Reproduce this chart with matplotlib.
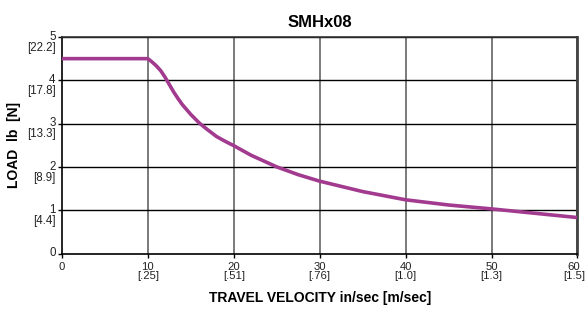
import matplotlib
matplotlib.use("Agg")
import matplotlib.pyplot as plt
from matplotlib.transforms import ScaledTranslation

plt.rcParams['font.family'] = ['Liberation Sans', 'DejaVu Sans']

# velocity in/sec and load lb
vel = [0, 10, 10.5, 11, 11.5, 12, 12.5, 13, 13.5, 14, 15, 16, 17, 18, 19, 20, 22,
       25, 27.5, 30, 35, 40, 45, 50, 55, 60]
load = [4.5, 4.5, 4.42, 4.33, 4.22, 4.07, 3.9, 3.73, 3.58, 3.44, 3.21, 3.01, 2.85,
        2.70, 2.59, 2.49, 2.27, 2.0, 1.82, 1.67, 1.43, 1.24, 1.12, 1.03, 0.93, 0.83]

xticks = [0, 10, 20, 30, 40, 50, 60]
xlabels = ['0', '10\n[.25]', '20\n[.51]', '30\n[.76]', '40\n[1.0]', '50\n[1.3]', '60\n[1.5]']
yticks = [0, 1, 2, 3, 4, 5]
ylabels = ['0', '1\n[4.4]', '2\n[8.9]', '3\n[13.3]', '4\n[17.8]', '5\n[22.2]']

fig = plt.figure(figsize=(5.87, 3.12), dpi=100)
ax = fig.add_axes([0.1056, 0.1875, 0.8782, 0.6939])

for x in xticks[1:]:
    ax.axvline(x, color='#707070', lw=1.3, zorder=1)
for y in yticks[1:]:
    ax.axhline(y, color='black', lw=1.0, zorder=1)

ax.plot(vel, load, color='#A23B8F', lw=2.6, zorder=3, solid_capstyle='butt')

ax.set_xlim(0, 60)
ax.set_ylim(0, 5)
ax.set_xticks(xticks)
ax.set_xticklabels(xlabels, fontsize=8.1, linespacing=0.9, color='#222222')
ax.set_yticks(yticks)
ax.set_yticklabels(ylabels, fontsize=8.3, linespacing=0.9, color='#222222')
ax.tick_params(axis='both', direction='out', length=3, width=1)
ax.tick_params(axis='x', pad=3)
ax.tick_params(axis='y', pad=1.5)

# first line of each y tick label sits on its tick
off = ScaledTranslation(0, 4.6 / 72, fig.dpi_scale_trans)
for lab in ax.get_yticklabels():
    lab.set_verticalalignment('top')
    lab.set_transform(lab.get_transform() + off)

# keep the last x label inside the figure
last = ax.get_xticklabels()[-1]
last.set_transform(last.get_transform() + ScaledTranslation(-2.5 / 72, 0, fig.dpi_scale_trans))

for s in ['left', 'bottom']:
    ax.spines[s].set_color('black')
    ax.spines[s].set_linewidth(1.2)
ax.spines['top'].set_color('#333333')
ax.spines['top'].set_linewidth(1.2)
ax.spines['right'].set_color('#444444')
ax.spines['right'].set_linewidth(2.0)

ax.set_title('SMHx08', fontsize=12, fontweight='bold', pad=7)
ax.set_xlabel('TRAVEL VELOCITY in/sec [m/sec]', fontsize=10, fontweight='bold', labelpad=7)
ax.set_ylabel('LOAD  lb  [N]', fontsize=10, fontweight='bold', labelpad=4)

fig.savefig('out.png', dpi=100)
